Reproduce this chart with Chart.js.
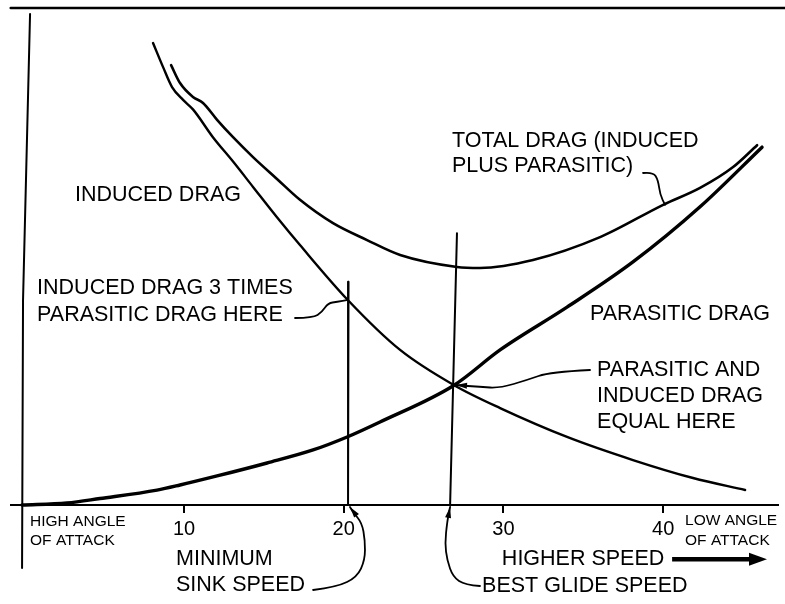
<!DOCTYPE html>
<html><head><meta charset="utf-8">
<script src="https://cdn.jsdelivr.net/npm/chart.js@4.4.1/dist/chart.umd.min.js"></script>
<style>html,body{margin:0;padding:0;background:#fff}canvas{display:block}</style>
</head><body>
<canvas id="c" width="785" height="604"></canvas>
<script>
// ---- data (airspeed units on x, relative drag on y) ----
const xTickValues = [10, 20, 30, 40];

const inducedX = [8.06, 8.69, 9.25, 9.94, 10.56, 11.81, 13.07, 14.32, 15.82, 17.26, 20.27, 23.53, 26.91, 29.79, 33.98, 38.11, 41.87, 45.13];
const inducedY = [92.96, 88.1, 84.1, 81.5, 79.6, 74.0, 69.1, 64.0, 57.9, 52.3, 41.2, 31.2, 24.1, 19.5, 13.7, 9.05, 5.43, 3.02];

const parasiticX = [-0.14, 2.67, 4.74, 8.31, 9.75, 12.07, 15.2, 18.08, 20.21, 22.27, 26.91, 29.79, 33.98, 38.11, 42.31, 46.19];
const parasiticY = [0, 0.4, 1.3, 3.0, 4.02, 5.84, 8.45, 11.07, 13.68, 16.7, 24.1, 31.2, 39.8, 48.9, 60.0, 72.0];

const totalX = [9.19, 9.75, 10.56, 11.19, 12.07, 13.07, 14.32, 15.82, 17.26, 19.33, 21.46, 23.53, 27.09, 28.53, 31.85, 36.05, 40.0, 42.31, 44.38, 45.88];
const totalY = [88.5, 84.9, 82.1, 80.9, 77.5, 74.0, 70.0, 65.6, 61.4, 56.7, 53.3, 50.3, 47.9, 47.7, 49.3, 53.9, 60.4, 63.8, 68.0, 72.4];

// reference lines
const minSinkX = [20.3, 20.27];
const minSinkY = [44.9, 0];
const bestGlideX = [27.09, 26.66];
const bestGlideY = [54.7, 0];
const yAxisX = [0.36, -0.08, -0.14];
const yAxisY = [98.8, 41.2, -12.7];
const frameX = [-0.85, 47.6];
const frameY = [100, 100];

// labels
const labelTexts = {
  induced: ["INDUCED DRAG"],
  threeTimes: ["INDUCED DRAG 3 TIMES", "PARASITIC DRAG HERE"],
  total: ["TOTAL DRAG (INDUCED", "PLUS PARASITIC)"],
  parasitic: ["PARASITIC DRAG"],
  equal: ["PARASITIC AND", "INDUCED DRAG", "EQUAL HERE"],
  high: ["HIGH ANGLE", "OF ATTACK"],
  low: ["LOW ANGLE", "OF ATTACK"],
  minSink: ["MINIMUM", "SINK SPEED"],
  higher: ["HIGHER SPEED"],
  bestGlide: ["BEST GLIDE SPEED"]
};

const pts = (xs, ys) => xs.map((x, i) => ({x, y: ys[i]}));
const FONT = '"Liberation Sans", Arial, Helvetica, sans-serif';

// annotation layout (data coordinates)
const annotations = [
  {lines: labelTexts.induced, x: 3.17, y: 62.4, size: 21.5, gap: 0},
  {lines: labelTexts.threeTimes, x: 0.80, y: 43.6, size: 21.5, gap: 5.4},
  {lines: labelTexts.total, x: 26.78, y: 73.2, size: 21.5, gap: 5.0},
  {lines: labelTexts.parasitic, x: 35.42, y: 38.4, size: 21.5, gap: 0},
  {lines: labelTexts.equal, x: 35.86, y: 27.2, size: 21.5, gap: 5.3},
  {lines: labelTexts.high, x: 0.36, y: -3.3, size: 15.5, gap: 3.8},
  {lines: labelTexts.low, x: 41.37, y: -3.1, size: 15.5, gap: 4.0},
  {lines: labelTexts.minSink, x: 9.5, y: -10.8, size: 21.5, gap: 5.4},
  {lines: labelTexts.higher, x: 29.9, y: -10.9, size: 21.5, gap: 0},
  {lines: labelTexts.bestGlide, x: 28.66, y: -16.3, size: 21.5, gap: 0}
];

const leaders = [
  {x: [16.95, 18.08, 18.64, 19.02, 19.58, 20.27], y: [37.63, 37.63, 38.83, 40.64, 40.85, 41.25], arrow: false},
  {x: [38.74, 39.37, 39.68, 39.81, 40.12], y: [66.8, 67.0, 65.4, 62.4, 60.4], arrow: false},
  {x: [35.42, 32.92, 31.48, 29.79, 28.53, 27.03], y: [27.16, 26.76, 25.15, 23.54, 23.74, 24.14], arrow: true},
  {x: [18.08, 19.58, 20.83, 21.33, 21.33, 21.14, 20.58, 20.39], y: [-17.1, -16.5, -14.5, -11.07, -7.04, -3.62, -1.41, -0.4], arrow: true},
  {x: [28.53, 27.6, 26.84, 26.47, 26.34, 26.47, 26.59, 26.66], y: [-16.3, -16.1, -14.5, -11.07, -7.65, -3.62, -1.41, -0.4], arrow: true}
];
const speedArrow = {x: [40.56, 46.5], y: [-10.9, -10.9]};

const annotPlugin = {
  id: 'annot',
  afterDatasetsDraw(chart) {
    const {ctx, scales: {x, y}} = chart;
    ctx.save();
    ctx.fillStyle = '#000';
    ctx.strokeStyle = '#000';
    ctx.textAlign = 'left';
    ctx.textBaseline = 'middle';
    annotations.forEach(a => {
      ctx.font = a.size + 'px ' + FONT;
      a.lines.forEach((t, i) => {
        ctx.fillText(t, x.getPixelForValue(a.x), y.getPixelForValue(a.y - i * a.gap));
      });
    });
    // leaders
    ctx.lineWidth = 1.8;
    ctx.lineCap = 'round';
    ctx.lineJoin = 'round';
    leaders.forEach(l => {
      const p = l.x.map((v, i) => [x.getPixelForValue(v), y.getPixelForValue(l.y[i])]);
      ctx.beginPath();
      ctx.moveTo(p[0][0], p[0][1]);
      for (let i = 1; i < p.length - 1; i++) {
        const mx = (p[i][0] + p[i + 1][0]) / 2, my = (p[i][1] + p[i + 1][1]) / 2;
        ctx.quadraticCurveTo(p[i][0], p[i][1], mx, my);
      }
      ctx.lineTo(p[p.length - 1][0], p[p.length - 1][1]);
      ctx.stroke();
      if (l.arrow) {
        const a = p[p.length - 1], b = p[p.length - 3];
        const ang = Math.atan2(a[1] - b[1], a[0] - b[0]);
        const L = 11, W = 3;
        ctx.beginPath();
        ctx.moveTo(a[0], a[1]);
        ctx.lineTo(a[0] - L * Math.cos(ang) + W * Math.sin(ang), a[1] - L * Math.sin(ang) - W * Math.cos(ang));
        ctx.lineTo(a[0] - L * Math.cos(ang) - W * Math.sin(ang), a[1] - L * Math.sin(ang) + W * Math.cos(ang));
        ctx.closePath();
        ctx.fill();
      }
    });
    // higher speed arrow
    const x0 = x.getPixelForValue(speedArrow.x[0]), x1 = x.getPixelForValue(speedArrow.x[1]);
    const ya = y.getPixelForValue(speedArrow.y[0]);
    ctx.lineWidth = 4.5;
    ctx.lineCap = 'butt';
    ctx.beginPath(); ctx.moveTo(x0, ya); ctx.lineTo(x1 - 14, ya); ctx.stroke();
    ctx.beginPath(); ctx.moveTo(x1, ya); ctx.lineTo(x1 - 18, ya - 6.5); ctx.lineTo(x1 - 18, ya + 6.5); ctx.closePath(); ctx.fill();
    ctx.restore();
  }
};

const lineDs = (data, w, smooth) => ({
  data, showLine: true, borderColor: '#000', backgroundColor: '#000',
  borderWidth: w, pointRadius: 0, tension: smooth ? 0.4 : 0,
  cubicInterpolationMode: smooth ? 'monotone' : 'default', clip: false,
  borderCapStyle: 'round', borderJoinStyle: 'round'
});

new Chart(document.getElementById('c'), {
  type: 'scatter',
  data: {
    datasets: [
      lineDs(pts(frameX, frameY), 2.6, false),
      lineDs(pts(yAxisX, yAxisY), 2, false),
      lineDs(pts(minSinkX, minSinkY), 2, false),
      lineDs(pts(bestGlideX, bestGlideY), 2, false),
      lineDs(pts(inducedX, inducedY), 2.4, true),
      lineDs(pts(totalX, totalY), 2.6, true),
      lineDs(pts(parasiticX, parasiticY), 3.4, true)
    ]
  },
  options: {
    responsive: false,
    animation: false,
    devicePixelRatio: 1,
    layout: {padding: {left: 11, right: 7, top: 8, bottom: 0}},
    plugins: {legend: {display: false}, tooltip: {enabled: false}},
    scales: {
      x: {
        type: 'linear', min: -0.833, max: 47.19,
        afterBuildTicks: s => { s.ticks = xTickValues.map(v => ({value: v})); },
        afterFit: s => { s.height = 99; },
        grid: {drawOnChartArea: false, drawTicks: true, tickLength: 8, color: '#000', lineWidth: 2},
        border: {display: true, color: '#000', width: 2},
        ticks: {color: '#000', font: {family: FONT, size: 20}, padding: 4, maxRotation: 0, autoSkip: false}
      },
      y: {display: false, min: 0, max: 100}
    }
  },
  plugins: [annotPlugin]
});
</script>
</body></html>
